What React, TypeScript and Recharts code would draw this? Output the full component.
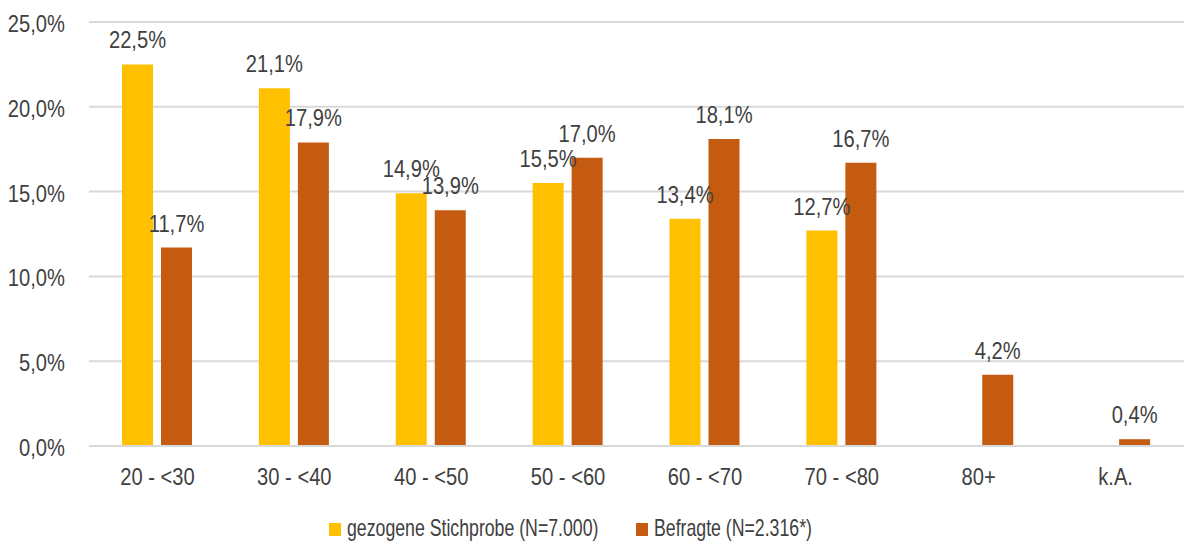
import { BarChart, Bar, XAxis, YAxis, CartesianGrid, Legend, LabelList } from "recharts";

const categories = ["20 - <30", "30 - <40", "40 - <50", "50 - <60", "60 - <70", "70 - <80", "80+", "k.A."];
const stichprobe = [22.5, 21.1, 14.9, 15.5, 13.4, 12.7, null, null];
const befragte = [11.7, 17.9, 13.9, 17.0, 18.1, 16.7, 4.2, 0.4];
const yTicks = [0, 5, 10, 15, 20, 25];

const FONT = "'Liberation Sans', Arial, sans-serif";
const TEXT = "#404040";
const GRID = "#d9d9d9";
const FS = 24;
// the original uses a narrow face; squeeze a regular one instead
const SQUEEZE = 0.84;

const series = [
  { key: "stichprobe", name: "gezogene Stichprobe (N=7.000)", color: "#FFC000" },
  { key: "befragte", name: "Befragte (N=2.316*)", color: "#C55A11" },
];

const data = categories.map((cat, i) => ({
  cat,
  stichprobe: stichprobe[i],
  befragte: befragte[i],
}));

const fmt = (v: any) => (v == null ? "" : Number(v).toFixed(1).replace(".", ",") + "%");

function NarrowText({ x, y, anchor, children, size = FS, squeeze = SQUEEZE }: any) {
  return (
    <text
      transform={`translate(${x},${y}) scale(${squeeze},1)`}
      textAnchor={anchor}
      fill={TEXT}
      fontSize={size}
      fontFamily={FONT}
    >
      {children}
    </text>
  );
}

const XTick = ({ x, y, payload }: any) => (
  <NarrowText x={x} y={y + 39} anchor="middle">
    {payload.value}
  </NarrowText>
);

const YTick = ({ x, y, payload }: any) => (
  <NarrowText x={x} y={y + 10} anchor="end">
    {fmt(payload.value)}
  </NarrowText>
);

const BarLabel = ({ x, y, width, value }: any) =>
  value == null ? null : (
    <NarrowText x={x + width / 2} y={y - 16} anchor="middle">
      {fmt(value)}
    </NarrowText>
  );

const legendPos = [
  { box: 329, text: 347 },
  { box: 636, text: 654 },
];

function LegendContent() {
  return (
    <svg width={1184} height={48} style={{ display: "block", overflow: "visible" }}>
      {series.map((s, i) => (
        <g key={s.key}>
          <rect x={legendPos[i].box} y={27} width={12} height={13} fill={s.color} />
          <NarrowText x={legendPos[i].text} y={40} anchor="start" size={23} squeeze={0.77}>
            {s.name}
          </NarrowText>
        </g>
      ))}
    </svg>
  );
}

export default function App() {
  return (
    <div style={{ position: "absolute", left: 0, top: 0, width: 1184, height: 544, background: "#fff" }}>
      <BarChart
        width={1184}
        height={544}
        data={data}
        margin={{ top: 22, right: 0, left: 0, bottom: 0 }}
        barSize={31}
        barGap={8}
      >
        <CartesianGrid vertical={false} stroke={GRID} strokeWidth={2} />
        <XAxis
          dataKey="cat"
          tickLine={false}
          axisLine={{ stroke: GRID, strokeWidth: 2 }}
          tickSize={0}
          tickMargin={0}
          tick={<XTick />}
          height={50}
          interval={0}
        />
        <YAxis
          width={89}
          domain={[0, 25]}
          ticks={yTicks}
          tickLine={false}
          axisLine={false}
          tickSize={0}
          tickMargin={24}
          tick={<YTick />}
        />
        <Legend
          verticalAlign="bottom"
          height={48}
          wrapperStyle={{ left: 0, top: 496, width: 1184, height: 48 }}
          content={<LegendContent />}
        />
        {series.map((s) => (
          <Bar key={s.key} dataKey={s.key} name={s.name} fill={s.color} isAnimationActive={false}>
            <LabelList dataKey={s.key} content={<BarLabel />} />
          </Bar>
        ))}
      </BarChart>
    </div>
  );
}
